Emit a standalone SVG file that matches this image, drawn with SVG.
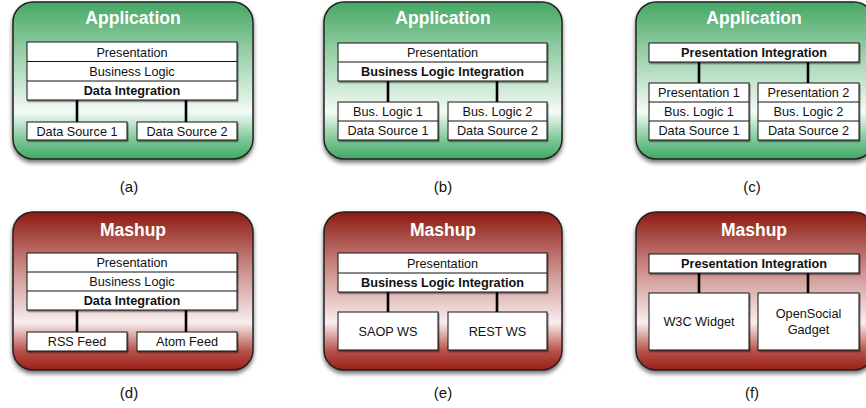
<svg xmlns="http://www.w3.org/2000/svg" width="866" height="408" viewBox="0 0 866 408">
<defs>
<linearGradient id="gG" x1="0" y1="0" x2="0" y2="1">
<stop offset="0" stop-color="#46a765"/>
<stop offset="0.35" stop-color="#9fd3ae"/>
<stop offset="0.7" stop-color="#f3faf5"/>
<stop offset="0.88" stop-color="#7cc795"/>
<stop offset="1" stop-color="#3fa862"/>
</linearGradient>
<linearGradient id="gR" x1="0" y1="0" x2="0" y2="1">
<stop offset="0" stop-color="#8c1a10"/>
<stop offset="0.35" stop-color="#c98a86"/>
<stop offset="0.7" stop-color="#f8eeee"/>
<stop offset="0.88" stop-color="#b8514a"/>
<stop offset="1" stop-color="#9a1f17"/>
</linearGradient>
<filter id="sh" x="-10%" y="-10%" width="120%" height="130%">
<feDropShadow dx="0" dy="3" stdDeviation="2.2" flood-color="#000" flood-opacity="0.55"/>
</filter>
<filter id="bs" x="-10%" y="-20%" width="125%" height="150%">
<feDropShadow dx="1" dy="1.5" stdDeviation="0.6" flood-color="#000" flood-opacity="0.45"/>
</filter>
</defs>
<style>
.pg{fill:url(#gG);stroke:#222;stroke-width:1.5;filter:url(#sh)}
.pr{fill:url(#gR);stroke:#222;stroke-width:1.5;filter:url(#sh)}
.b{fill:#fff;stroke:#111;stroke-width:1;filter:url(#bs)}
.t{font-family:"Liberation Sans",Arial,sans-serif;font-size:12.7px;fill:#111;text-anchor:middle}
.tb{font-family:"Liberation Sans",Arial,sans-serif;font-size:12.7px;font-weight:bold;fill:#111;text-anchor:middle}
.h{font-family:"Liberation Sans",Arial,sans-serif;font-size:17.5px;font-weight:bold;fill:#fff;text-anchor:middle}
.cap{font-family:"Liberation Sans",Arial,sans-serif;font-size:15px;fill:#111;text-anchor:middle}
.c{stroke:#000;stroke-width:2.6;fill:none}
</style>

<!-- panels -->
<g id="panel-a">
<rect class="pg" x="13" y="2" width="240" height="157" rx="20"/>
<text class="h" x="133" y="24">Application</text>
</g>
<g id="panel-b">
<rect class="pg" x="324" y="2" width="238" height="157" rx="20"/>
<text class="h" x="443" y="24">Application</text>
</g>
<g id="panel-c">
<rect class="pg" x="636" y="2" width="238" height="157" rx="20"/>
<text class="h" x="754" y="24">Application</text>
</g>
<g id="panel-d">
<rect class="pr" x="13" y="212" width="240" height="158" rx="20"/>
<text class="h" x="133" y="236">Mashup</text>
</g>
<g id="panel-e">
<rect class="pr" x="324" y="212" width="238" height="158" rx="20"/>
<text class="h" x="443" y="236">Mashup</text>
</g>
<g id="panel-f">
<rect class="pr" x="636" y="212" width="238" height="158" rx="20"/>
<text class="h" x="754" y="236">Mashup</text>
</g>

<!-- connectors -->
<g id="connectors">
<line class="c" x1="77" y1="100" x2="77" y2="122"/>
<line class="c" x1="186" y1="100" x2="186" y2="122"/>
<line class="c" x1="388" y1="81" x2="388" y2="102"/>
<line class="c" x1="497" y1="81" x2="497" y2="102"/>
<line class="c" x1="699" y1="62" x2="699" y2="83"/>
<line class="c" x1="808" y1="62" x2="808" y2="83"/>
<line class="c" x1="77" y1="310" x2="77" y2="332"/>
<line class="c" x1="186" y1="310" x2="186" y2="332"/>
<line class="c" x1="388" y1="292" x2="388" y2="312"/>
<line class="c" x1="497" y1="292" x2="497" y2="312"/>
<line class="c" x1="699" y1="273" x2="699" y2="293"/>
<line class="c" x1="808" y1="273" x2="808" y2="293"/>
</g>

<!-- (a) -->
<g id="a-stack">
<rect class="b" x="27" y="42" width="210" height="58"/>
<line x1="27" y1="61.5" x2="237" y2="61.5" stroke="#111"/>
<line x1="27" y1="81" x2="237" y2="81" stroke="#111"/>
<text class="t" x="132" y="56.5">Presentation</text>
<text class="t" x="132" y="76">Business Logic</text>
<text class="tb" x="132" y="95">Data Integration</text>
</g>
<g id="a-ds1"><rect class="b" x="27" y="122" width="100" height="18"/><text class="t" x="77" y="135.5">Data Source 1</text></g>
<g id="a-ds2"><rect class="b" x="137" y="122" width="100" height="18"/><text class="t" x="187" y="135.5">Data Source 2</text></g>
<text class="cap" x="129" y="192">(a)</text>

<!-- (b) -->
<g id="b-stack">
<rect class="b" x="338" y="43" width="209" height="38"/>
<line x1="338" y1="62" x2="547" y2="62" stroke="#111"/>
<text class="t" x="442.5" y="57">Presentation</text>
<text class="tb" x="442.5" y="76">Business Logic Integration</text>
</g>
<g id="b-left">
<rect class="b" x="338" y="102" width="100" height="38"/>
<line x1="338" y1="121" x2="438" y2="121" stroke="#111"/>
<text class="t" x="388" y="116">Bus. Logic 1</text>
<text class="t" x="388" y="135">Data Source 1</text>
</g>
<g id="b-right">
<rect class="b" x="448" y="102" width="99" height="38"/>
<line x1="448" y1="121" x2="547" y2="121" stroke="#111"/>
<text class="t" x="497.5" y="116">Bus. Logic 2</text>
<text class="t" x="497.5" y="135">Data Source 2</text>
</g>
<text class="cap" x="443" y="192">(b)</text>

<!-- (c) -->
<g id="c-top">
<rect class="b" x="649" y="43" width="210" height="19"/>
<text class="tb" x="754" y="57">Presentation Integration</text>
</g>
<g id="c-left">
<rect class="b" x="649" y="83" width="100" height="57"/>
<line x1="649" y1="102" x2="749" y2="102" stroke="#111"/>
<line x1="649" y1="121" x2="749" y2="121" stroke="#111"/>
<text class="t" x="699" y="97">Presentation 1</text>
<text class="t" x="699" y="116">Bus. Logic 1</text>
<text class="t" x="699" y="135">Data Source 1</text>
</g>
<g id="c-right">
<rect class="b" x="758" y="83" width="101" height="57"/>
<line x1="758" y1="102" x2="859" y2="102" stroke="#111"/>
<line x1="758" y1="121" x2="859" y2="121" stroke="#111"/>
<text class="t" x="808.5" y="97">Presentation 2</text>
<text class="t" x="808.5" y="116">Bus. Logic 2</text>
<text class="t" x="808.5" y="135">Data Source 2</text>
</g>
<text class="cap" x="752" y="192">(c)</text>

<!-- (d) -->
<g id="d-stack">
<rect class="b" x="27" y="253" width="210" height="57"/>
<line x1="27" y1="272" x2="237" y2="272" stroke="#111"/>
<line x1="27" y1="291" x2="237" y2="291" stroke="#111"/>
<text class="t" x="132" y="267">Presentation</text>
<text class="t" x="132" y="286">Business Logic</text>
<text class="tb" x="132" y="305">Data Integration</text>
</g>
<g id="d-rss"><rect class="b" x="27" y="332" width="100" height="19"/><text class="t" x="77" y="346">RSS Feed</text></g>
<g id="d-atom"><rect class="b" x="137" y="332" width="100" height="19"/><text class="t" x="187" y="346">Atom Feed</text></g>
<text class="cap" x="129" y="398">(d)</text>

<!-- (e) -->
<g id="e-stack">
<rect class="b" x="338" y="253" width="209" height="39"/>
<line x1="338" y1="273" x2="547" y2="273" stroke="#111"/>
<text class="t" x="442.5" y="267.5">Presentation</text>
<text class="tb" x="442.5" y="287">Business Logic Integration</text>
</g>
<g id="e-soap"><rect class="b" x="338" y="312" width="100" height="38"/><text class="t" x="388" y="335.5">SAOP WS</text></g>
<g id="e-rest"><rect class="b" x="448" y="312" width="99" height="38"/><text class="t" x="497.5" y="335.5">REST WS</text></g>
<text class="cap" x="443" y="398">(e)</text>

<!-- (f) -->
<g id="f-top">
<rect class="b" x="649" y="254" width="210" height="19"/>
<text class="tb" x="754" y="268">Presentation Integration</text>
</g>
<g id="f-w3c"><rect class="b" x="649" y="293" width="100" height="57"/><text class="t" x="699" y="325.5">W3C Widget</text></g>
<g id="f-os"><rect class="b" x="758" y="293" width="101" height="57"/><text class="t" x="808.5" y="317.5">OpenSocial</text><text class="t" x="808.5" y="333.5">Gadget</text></g>
<text class="cap" x="752" y="398">(f)</text>
</svg>
